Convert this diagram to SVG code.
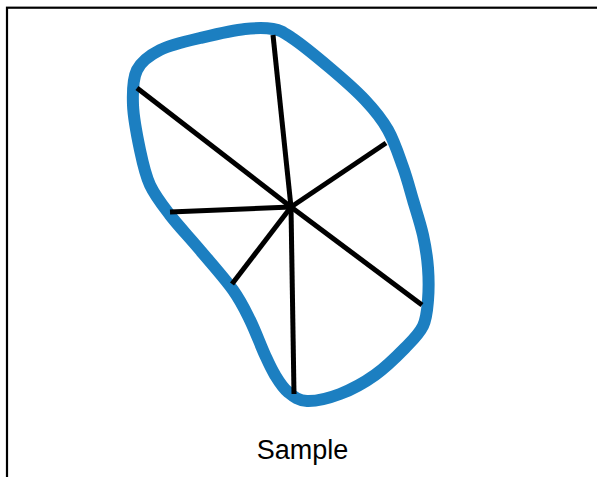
<svg xmlns="http://www.w3.org/2000/svg" width="597" height="477" viewBox="0 0 597 477">
<style>
.frame{fill:none;stroke:#000;stroke-width:2.2}
.blob{fill:none;stroke:#1c7fc1;stroke-width:12;stroke-linejoin:round}
.spoke{stroke:#000;stroke-width:5;stroke-linecap:butt}
.label{font-family:"Liberation Sans",Arial,sans-serif;font-size:27px;fill:#000;text-anchor:middle}
</style>
<rect class="frame" x="7" y="7.7" width="620" height="500"/>
<g id="blob">
<path class="blob" d="M273,29 C280.8,30.3 282.5,31.7 292,38 C301.5,44.3 317.8,57.7 330,68 C342.2,78.3 355.3,89.7 365,100 C374.7,110.3 381.7,118.8 388,130 C394.3,141.2 398.8,155.3 403,167 C407.2,178.7 409.7,188.7 413,200 C416.3,211.3 420.5,223.7 423,235 C425.5,246.3 427.2,257.2 428,268 C428.8,278.8 428.8,290.3 428,300 C427.2,309.7 426.8,318 423,326 C419.2,334 413,339.8 405,348 C397,356.2 385.8,367.3 375,375 C364.2,382.7 351.3,389.7 340,394 C328.7,398.3 315.7,401.3 307,401 C298.3,400.7 293.3,396.3 288,392 C282.7,387.7 278.8,381.2 275,375 C271.2,368.8 269.2,364.2 265,355 C260.8,345.8 255.3,330.8 250,320 C244.7,309.2 241.3,301.7 233,290 C224.7,278.3 210.5,262.5 200,250 C189.5,237.5 178.3,225.8 170,215 C161.7,204.2 155,195.8 150,185 C145,174.2 142.8,163.3 140,150 C137.2,136.7 133.5,118.3 133,105 C132.5,91.7 132.5,79.2 137,70 C141.5,60.8 149.5,55.3 160,50 C170.5,44.7 185.8,41.3 200,38 C214.2,34.7 232.8,30.3 245,29 C257.2,27.7 265.2,27.7 273,29 Z"/>
</g>
<g id="spokes">
<line class="spoke" x1="291" y1="207" x2="273" y2="35"/>
<line class="spoke" x1="291" y1="207" x2="137" y2="88"/>
<line class="spoke" x1="291" y1="207" x2="170" y2="212"/>
<line class="spoke" x1="291" y1="207" x2="232" y2="284"/>
<line class="spoke" x1="291" y1="207" x2="294" y2="394"/>
<line class="spoke" x1="291" y1="207" x2="422" y2="305"/>
<line class="spoke" x1="291" y1="207" x2="386" y2="143"/>
</g>
<g id="caption">
<text class="label" x="302.5" y="459">Sample</text>
</g>
</svg>
